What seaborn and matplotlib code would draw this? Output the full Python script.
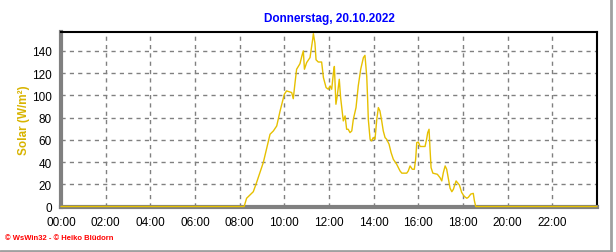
import matplotlib
matplotlib.use("Agg")
import matplotlib.pyplot as plt
from matplotlib.lines import Line2D
from matplotlib.ticker import MultipleLocator
import seaborn as sns
import pandas as pd

title = "Donnerstag, 20.10.2022"
ylabel = "Solar (W/m²)"
footer = "© WsWin32 - © Heiko Blüdorn"

hours = [0, 8.2, 8.31, 8.61, 8.76, 9.06, 9.36, 9.51, 9.66, 9.81, 10.0, 10.1, 10.33, 10.4,
         10.48, 10.55, 10.7, 10.78, 10.85, 10.9, 11.0, 11.15, 11.27, 11.3, 11.37, 11.42,
         11.52, 11.67, 11.75, 11.87, 11.97, 12.05, 12.12, 12.2, 12.24, 12.31, 12.37, 12.46,
         12.52, 12.58, 12.64, 12.72, 12.79, 12.86, 12.94, 13.02, 13.09, 13.21, 13.31, 13.42,
         13.54, 13.61, 13.69, 13.73, 13.76, 13.84, 13.91, 13.98, 14.06, 14.14, 14.21, 14.28,
         14.36, 14.43, 14.51, 14.58, 14.69, 14.78, 14.88, 15.03, 15.18, 15.26, 15.48, 15.55,
         15.63, 15.73, 15.82, 15.88, 15.93, 16.0, 16.08, 16.3, 16.37, 16.42, 16.48, 16.52,
         16.57, 16.65, 16.85, 16.97, 17.05, 17.12, 17.2, 17.27, 17.35, 17.42, 17.5, 17.57,
         17.69, 17.77, 17.84, 17.94, 18.05, 18.17, 18.24, 18.35, 18.46, 18.51, 18.57, 24]
solar = [0, 0, 7.4, 13.3, 21.7, 39.7, 65, 68, 72.5, 86, 101, 104, 102.5, 97,
         111.5, 123.5, 128.5, 135, 140, 123.5, 129.5, 134, 150.5, 155.5, 147, 132,
         130, 130, 116, 107, 105.5, 108.5, 105.5, 120.5, 126, 92, 99.5, 114.5,
         98, 87.5, 77, 81.5, 69.5, 69.5, 66.5, 68, 78.5, 89, 108.5, 123.5,
         134, 136, 117, 96.5, 78.5, 60.5, 59, 62, 60.5, 78.5, 89, 86,
         77, 68, 62, 60.5, 56, 48.5, 42.5, 38, 32, 30, 30, 32,
         36.5, 33.5, 33.5, 42.5, 57.5, 58, 54, 54, 60.5, 66.5, 69.5, 53,
         35, 30, 29, 26, 23, 30.5, 36.5, 33.5, 24.5, 16.5, 13.3, 15.5,
         23, 21, 19.3, 12.7, 9.2, 7.4, 8.3, 11.2, 11.8, 5.2, 0, 0]
xtick_labels = ["00:00", "02:00", "04:00", "06:00", "08:00", "10:00", "12:00",
                "14:00", "16:00", "18:00", "20:00", "22:00"]

sns.set_style("white")
plt.rcParams['font.family'] = ['Liberation Sans', 'DejaVu Sans']

W, H = 616, 253
fig = plt.figure(figsize=(W / 100, H / 100), dpi=100)
ax = fig.add_axes([61 / W, (H - 207.5) / H, 536 / W, 174.5 / H])

df = pd.DataFrame({"h": hours, "v": solar})
sns.lineplot(data=df, x="h", y="v", ax=ax, color="#e6c000", linewidth=1.0,
             clip_on=False, zorder=5)

ax.set_xlim(0, 24)
ax.set_ylim(0, 157)
ax.xaxis.set_minor_locator(MultipleLocator(0.5))
ax.set_xticks(range(0, 24, 2))
ax.set_xticklabels(xtick_labels)
ax.yaxis.set_major_locator(MultipleLocator(20))
ax.yaxis.set_minor_locator(MultipleLocator(4))

ax.grid(True, which="major", color="#808080", linestyle=(0, (3, 3)), linewidth=1)
for s in ("top", "right"):
    ax.spines[s].set_color("black")
    ax.spines[s].set_linewidth(1.5)
for s in ("left", "bottom"):
    ax.spines[s].set_color("#808080")
    ax.spines[s].set_linewidth(3)

ax.tick_params(axis="both", which="major", labelsize=8.5, colors="black",
               length=4, width=1, pad=3)
ax.tick_params(axis="x", which="major", direction="out", color="#808080")
ax.tick_params(axis="y", which="major", direction="inout", color="#808080", length=7)
ax.tick_params(axis="x", which="minor", direction="out", color="#808080", length=3)
ax.tick_params(axis="y", which="minor", direction="inout", color="#808080", length=4)

ax.set_xlabel("")
ax.set_ylabel(ylabel, color="#d8b400", fontsize=8.5, fontweight="bold", labelpad=1.5)
ax.set_title(title, color="#0000ff", fontsize=8.5, fontweight="bold", pad=8)

fig.text(5 / W, 1 - 239 / H, footer, color="#ff0000", fontsize=5.5,
         fontweight="bold", va="center", ha="left")

fig.add_artist(Line2D([611 / W, 611 / W], [1 - 251.5 / H, 1.0], color="#a0a0a0",
                      linewidth=2, transform=fig.transFigure))
fig.add_artist(Line2D([0, 611 / W], [1 - 251.5 / H, 1 - 251.5 / H], color="#a0a0a0",
                      linewidth=2, transform=fig.transFigure))

fig.savefig("out.png", dpi=100, facecolor="white")
